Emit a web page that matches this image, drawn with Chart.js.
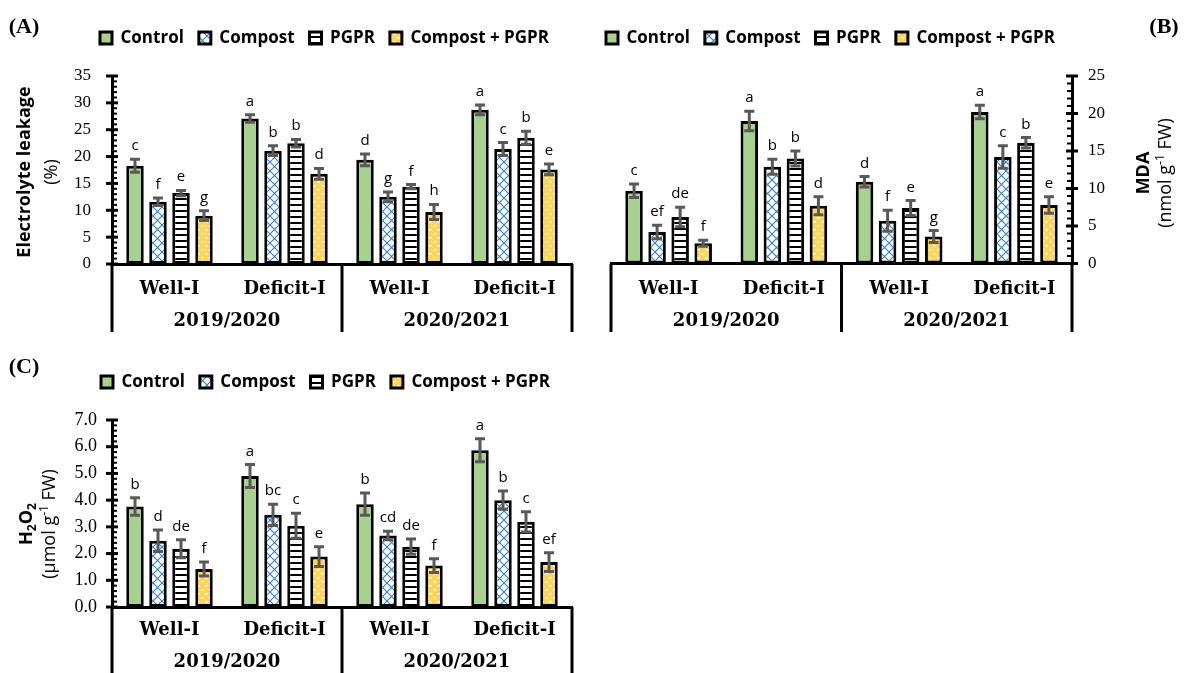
<!DOCTYPE html>
<html>
<head>
<meta charset="utf-8">
<title>Electrolyte leakage, MDA and H2O2</title>
<script src="https://cdn.jsdelivr.net/npm/chart.js@4/dist/chart.umd.min.js"></script>
<style>
  html, body { margin: 0; padding: 0; background: #fff; width: 1184px; height: 673px; overflow: hidden; }
  canvas { position: absolute; }
</style>
</head>
<body>
<canvas id="elChart" width="592" height="340" style="left:0;top:0"></canvas>
<canvas id="mdaChart" width="592" height="340" style="left:592px;top:0"></canvas>
<canvas id="h2o2Chart" width="592" height="333" style="left:0;top:340px"></canvas>
<script>
// ---- categories ----
const categories = ['Well-I', 'Deficit-I', 'Well-I', 'Deficit-I'];
const seasons = ['2019/2020', '2020/2021'];
const treatments = ['Control', 'Compost', 'PGPR', 'Compost + PGPR'];

// ---- Electrolyte leakage (%) ----
const elControl       = [18.3, 27.1, 19.4, 28.7];
const elCompost       = [11.6, 21.1, 12.5, 21.4];
const elPgpr          = [13.2, 22.5, 14.4, 23.5];
const elCompostPgpr   = [9.0, 16.8, 9.7, 17.6];
const elControlSe     = [1.2, 0.7, 1.1, 0.9];
const elCompostSe     = [0.7, 0.9, 0.9, 1.2];
const elPgprSe        = [0.5, 0.7, 0.4, 1.2];
const elCompostPgprSe = [0.9, 1.0, 1.4, 1.0];
const elControlLet     = ['c', 'a', 'd', 'a'];
const elCompostLet     = ['f', 'b', 'g', 'c'];
const elPgprLet        = ['e', 'b', 'f', 'b'];
const elCompostPgprLet = ['g', 'd', 'h', 'e'];
const elTicks = [0, 5, 10, 15, 20, 25, 30, 35];

// ---- MDA (nmol g-1 FW) ----
const mdaControl       = [9.7, 19.0, 10.9, 20.2];
const mdaCompost       = [4.2, 12.9, 5.7, 14.2];
const mdaPgpr          = [6.2, 14.0, 7.4, 16.1];
const mdaCompostPgpr   = [2.7, 7.7, 3.6, 7.8];
const mdaControlSe     = [0.9, 1.3, 0.7, 0.9];
const mdaCompostSe     = [0.9, 1.0, 1.4, 1.5];
const mdaPgprSe        = [1.3, 1.0, 1.0, 0.7];
const mdaCompostPgprSe = [0.4, 1.2, 0.8, 1.1];
const mdaControlLet     = ['c', 'a', 'd', 'a'];
const mdaCompostLet     = ['ef', 'b', 'f', 'c'];
const mdaPgprLet        = ['de', 'b', 'e', 'b'];
const mdaCompostPgprLet = ['f', 'd', 'g', 'e'];
const mdaTicks = [0, 5, 10, 15, 20, 25];

// ---- H2O2 (µmol g-1 FW) ----
const h2o2Control       = [3.76, 4.90, 3.85, 5.87];
const h2o2Compost       = [2.48, 3.45, 2.68, 4.00];
const h2o2Pgpr          = [2.18, 3.04, 2.26, 3.19];
const h2o2CompostPgpr   = [1.42, 1.89, 1.55, 1.68];
const h2o2ControlSe     = [0.33, 0.43, 0.42, 0.43];
const h2o2CompostSe     = [0.40, 0.40, 0.16, 0.34];
const h2o2PgprSe        = [0.34, 0.47, 0.29, 0.38];
const h2o2CompostPgprSe = [0.26, 0.37, 0.26, 0.35];
const h2o2ControlLet     = ['b', 'a', 'b', 'a'];
const h2o2CompostLet     = ['d', 'bc', 'cd', 'b'];
const h2o2PgprLet        = ['de', 'c', 'de', 'c'];
const h2o2CompostPgprLet = ['f', 'e', 'f', 'ef'];
const h2o2Ticks = [0, 1, 2, 3, 4, 5, 6, 7];

// ---- bar fills ----
function tile(w, h, paint) {
  const c = document.createElement('canvas');
  c.width = w; c.height = h;
  const g = c.getContext('2d');
  paint(g, w, h);
  return g.createPattern(c, 'repeat');
}
const controlFill = '#A9D18E';
const compostFill = tile(9, 9, (g, w, h) => {
  g.fillStyle = '#fff'; g.fillRect(0, 0, w, h);
  g.strokeStyle = '#2F80CF'; g.lineWidth = 1.1;
  g.beginPath();
  g.moveTo(0, 0); g.lineTo(w, h);
  g.moveTo(w, 0); g.lineTo(0, h);
  g.stroke();
});
const pgprFill = tile(4, 6, (g, w, h) => {
  g.fillStyle = '#fff'; g.fillRect(0, 0, w, h);
  g.fillStyle = '#000'; g.fillRect(0, 0, w, 2);
});
const compostPgprFill = tile(8, 8, (g, w, h) => {
  g.fillStyle = '#FDD55E'; g.fillRect(0, 0, w, h);
  g.fillStyle = '#fff';
  g.fillRect(1, 1, 3, 1.5);
  g.fillRect(5, 5, 3, 1.5);
});
const fills = [controlFill, compostFill, pgprFill, compostPgprFill];

Chart.defaults.color = '#000';
Chart.defaults.animation = false;

// Chart.js plugins ------------------------------------------------------

// legend box height fixed and its row placed at a given x
const legendBox = {
  id: 'legendBox',
  beforeInit(chart, args, opts) {
    const lg = chart.legend;
    const fit = lg.fit;
    lg.fit = function () { fit.call(this); this.height = opts.height; };
  },
  beforeDraw(chart, args, opts) {
    const lg = chart.legend;
    const w = lg.right - lg.left;
    lg.left = opts.left; lg.right = opts.left + w;
  }
};

// error bars and significance letters
const errorBars = {
  id: 'errorBars',
  afterDatasetsDraw(chart) {
    const ctx = chart.ctx, y = chart.scales.y;
    chart.data.datasets.forEach((ds, i) => {
      chart.getDatasetMeta(i).data.forEach((bar, j) => {
        const v = ds.data[j], e = ds.errors[j];
        const top = y.getPixelForValue(v + e), bot = y.getPixelForValue(v - e);
        ctx.save();
        ctx.strokeStyle = '#595959'; ctx.lineWidth = 3;
        ctx.beginPath();
        ctx.moveTo(bar.x, top); ctx.lineTo(bar.x, bot);
        ctx.moveTo(bar.x - 5, top); ctx.lineTo(bar.x + 5, top);
        ctx.moveTo(bar.x - 5, bot); ctx.lineTo(bar.x + 5, bot);
        ctx.stroke();
        ctx.fillStyle = '#000';
        ctx.font = '15px "Open Sans"';
        ctx.textAlign = 'center'; ctx.textBaseline = 'alphabetic';
        ctx.fillText(ds.letters[j], bar.x, top - 9);
        ctx.restore();
      });
    });
  }
};

// major ticks crossing the value axis, minor ticks on its inner side
const valueTicks = {
  id: 'valueTicks',
  afterDraw(chart, args, opts) {
    const y = chart.scales.y, ctx = chart.ctx;
    const left = y.position === 'left';
    const ax = left ? y.right : y.left;
    const dir = left ? 1 : -1;
    const n = Math.round((y.max - y.min) / opts.minor);
    ctx.save();
    ctx.strokeStyle = '#000';
    for (let i = 0; i <= n; i++) {
      const v = y.min + i * opts.minor;
      const py = y.getPixelForValue(v);
      const r = v / opts.major;
      const major = Math.abs(r - Math.round(r)) < 1e-6;
      ctx.beginPath();
      if (major) {
        ctx.lineWidth = 3;
        ctx.moveTo(ax - 6, py); ctx.lineTo(ax + 6, py);
      } else {
        ctx.lineWidth = 2;
        ctx.moveTo(ax, py); ctx.lineTo(ax + dir * 5, py);
      }
      ctx.stroke();
    }
    ctx.restore();
  }
};

// season boxes under the irrigation categories
const seasonAxis = {
  id: 'seasonAxis',
  afterDraw(chart, args, opts) {
    const x = chart.scales.x, ctx = chart.ctx;
    const base = chart.chartArea.bottom;
    const sep = (x.getPixelForValue(1) + x.getPixelForValue(2)) / 2;
    ctx.save();
    ctx.strokeStyle = '#000'; ctx.lineWidth = 3;
    [x.left, sep, x.right].forEach(px => {
      ctx.beginPath(); ctx.moveTo(px, base); ctx.lineTo(px, opts.lineEnd); ctx.stroke();
    });
    ctx.fillStyle = '#000';
    ctx.font = 'bold 18px "DejaVu Serif"';
    ctx.textAlign = 'center'; ctx.textBaseline = 'middle';
    seasons.forEach((s, k) => {
      const cx = (x.getPixelForValue(2 * k) + x.getPixelForValue(2 * k + 1)) / 2;
      ctx.fillText(s, cx, opts.y);
    });
    ctx.restore();
  }
};

// rotated value-axis title with bold / super- / subscript runs
function drawRich(ctx, runs, cx, cy, size) {
  ctx.save();
  ctx.translate(cx, cy);
  ctx.rotate(-Math.PI / 2);
  ctx.textBaseline = 'middle';
  ctx.textAlign = 'left';
  ctx.fillStyle = '#000';
  const fontOf = r => (r.bold ? 'bold ' : '') + (r.script ? Math.round(size * 0.65) : size) + 'px "Open Sans"';
  let total = 0;
  runs.forEach(r => { ctx.font = fontOf(r); total += ctx.measureText(r.t).width; });
  let x = -total / 2;
  runs.forEach(r => {
    ctx.font = fontOf(r);
    const dy = r.script === 'sup' ? -size * 0.32 : r.script === 'sub' ? size * 0.3 : 0;
    ctx.fillText(r.t, x, dy);
    x += ctx.measureText(r.t).width;
  });
  ctx.restore();
}

// axis title and panel tag, kept in a closure per chart
function panelText(p) {
  return {
    id: 'panelText',
    afterDraw(chart) {
      const ctx = chart.ctx;
      p.title.forEach(line => drawRich(ctx, line.runs, line.x, p.titleY, 18));
      ctx.save();
      ctx.fillStyle = '#000';
      ctx.font = 'bold 22px "Liberation Serif"';
      ctx.textAlign = 'center'; ctx.textBaseline = 'middle';
      ctx.fillText(p.tag, p.tagX, p.tagY);
      ctx.restore();
    }
  };
}

// chart builder -----------------------------------------------------------
function buildChart(p) {
  const datasets = treatments.map((name, k) => ({
    label: name,
    data: p.values[k],
    errors: p.errors[k],
    letters: p.letters[k],
    backgroundColor: fills[k],
    borderColor: '#000',
    borderWidth: 3,
    borderSkipped: false,
    barPercentage: 0.76,
    categoryPercentage: 0.8
  }));
  return new Chart(document.getElementById(p.canvas), {
    type: 'bar',
    data: { labels: categories, datasets },
    plugins: [legendBox, errorBars, valueTicks, seasonAxis, panelText(p)],
    options: {
      responsive: false,
      animation: false,
      layout: { padding: p.padding },
      plugins: {
        tooltip: { enabled: false },
        legend: {
          position: 'top',
          align: 'start',
          labels: {
            boxWidth: 12, boxHeight: 12, padding: 15,
            font: { family: '"Open Sans"', weight: 'bold', size: 17 },
            color: '#000'
          }
        },
        legendBox: { height: p.legendHeight, left: p.legendLeft },
        valueTicks: { major: p.ticks[1] - p.ticks[0], minor: p.minor },
        seasonAxis: { y: p.seasonY, lineEnd: p.lineEnd }
      },
      scales: {
        x: {
          grid: { display: false, drawTicks: false },
          border: { display: true, width: 3, color: '#000' },
          ticks: {
            padding: p.xPad, maxRotation: 0, autoSkip: false, color: '#000',
            font: { family: '"DejaVu Serif"', weight: 'bold', size: 18 }
          },
          afterFit: s => { s.height = p.xHeight; }
        },
        y: {
          position: p.side,
          min: p.ticks[0],
          max: p.ticks[p.ticks.length - 1],
          afterBuildTicks: s => { s.ticks = p.ticks.map(v => ({ value: v })); },
          grid: { display: false, drawTicks: false },
          border: { display: true, width: 3, color: '#000' },
          ticks: {
            padding: p.yPad, color: '#000',
            font: { family: '"Liberation Serif"', size: p.yFont },
            callback: v => Number(v).toFixed(p.decimals)
          },
          afterFit: s => { s.width = p.axisWidth; }
        }
      }
    }
  });
}

buildChart({
  canvas: 'elChart',
  values: [elControl, elCompost, elPgpr, elCompostPgpr],
  errors: [elControlSe, elCompostSe, elPgprSe, elCompostPgprSe],
  letters: [elControlLet, elCompostLet, elPgprLet, elCompostPgprLet],
  ticks: elTicks, minor: 1, decimals: 0, side: 'left', axisWidth: 112,
  padding: { top: 14.5, left: 0, right: 20, bottom: 0 },
  legendHeight: 61.5, legendLeft: 85,
  xHeight: 76, xPad: 15, yPad: 21, yFont: 17,
  seasonY: 321, lineEnd: 332,
  title: [
    { x: 25, runs: [{ t: 'Electrolyte leakage', bold: true }] },
    { x: 52, runs: [{ t: '(%)' }] }
  ],
  titleY: 172, tag: '(A)', tagX: 24, tagY: 27
});

buildChart({
  canvas: 'mdaChart',
  values: [mdaControl, mdaCompost, mdaPgpr, mdaCompostPgpr],
  errors: [mdaControlSe, mdaCompostSe, mdaPgprSe, mdaCompostPgprSe],
  letters: [mdaControlLet, mdaCompostLet, mdaPgprLet, mdaCompostPgprLet],
  ticks: mdaTicks, minor: 1, decimals: 0, side: 'right', axisWidth: 112,
  padding: { top: 14.5, left: 19, right: 0, bottom: 0 },
  legendHeight: 61.5, legendLeft: -1,
  xHeight: 76.5, xPad: 15, yPad: 16, yFont: 17,
  seasonY: 321, lineEnd: 332,
  title: [
    { x: 552, runs: [{ t: 'MDA', bold: true }] },
    { x: 574, runs: [{ t: '(nmol g' }, { t: '-1', script: 'sup' }, { t: ' FW)' }] }
  ],
  titleY: 173, tag: '(B)', tagX: 572, tagY: 27
});

buildChart({
  canvas: 'h2o2Chart',
  values: [h2o2Control, h2o2Compost, h2o2Pgpr, h2o2CompostPgpr],
  errors: [h2o2ControlSe, h2o2CompostSe, h2o2PgprSe, h2o2CompostPgprSe],
  letters: [h2o2ControlLet, h2o2CompostLet, h2o2PgprLet, h2o2CompostPgprLet],
  ticks: h2o2Ticks, minor: 0.2, decimals: 1, side: 'left', axisWidth: 112,
  padding: { top: 18.5, left: 0, right: 20, bottom: 0 },
  legendHeight: 61.5, legendLeft: 86,
  xHeight: 66, xPad: 13, yPad: 15, yFont: 18,
  seasonY: 322, lineEnd: 333,
  title: [
    { x: 27, runs: [{ t: 'H', bold: true }, { t: '2', bold: true, script: 'sub' }, { t: 'O', bold: true }, { t: '2', bold: true, script: 'sub' }] },
    { x: 50, runs: [{ t: '(µmol g' }, { t: '-1', script: 'sup' }, { t: ' FW)' }] }
  ],
  titleY: 184, tag: '(C)', tagX: 24, tagY: 27
});
</script>
</body>
</html>
